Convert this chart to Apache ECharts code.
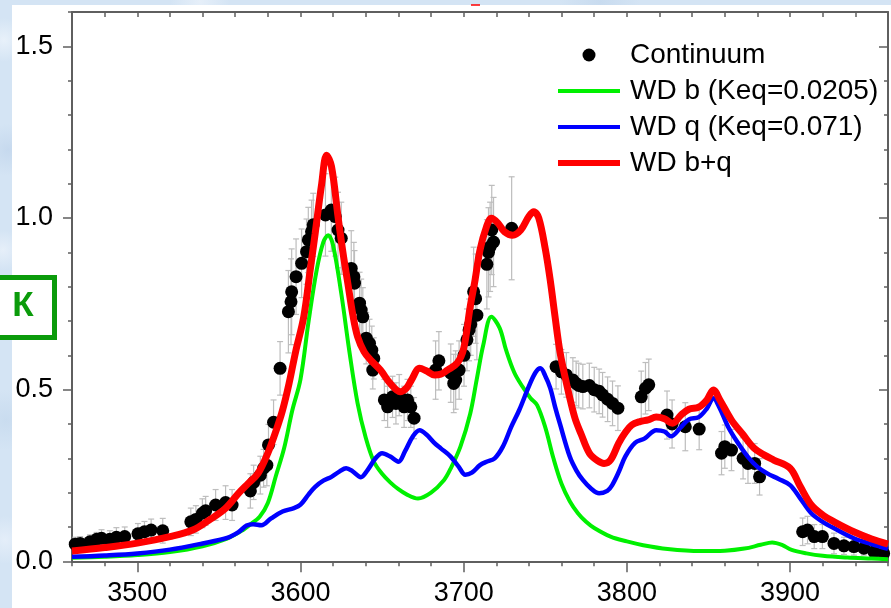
<!DOCTYPE html>
<html>
<head>
<meta charset="utf-8">
<script src="https://cdn.jsdelivr.net/npm/echarts@6/dist/echarts.min.js"></script>
<style>
  html, body { margin: 0; padding: 0; width: 891px; height: 608px; overflow: hidden; }
  body {
    background-color: #d4e4f4;
    background-image:
      radial-gradient(circle at 4px 40px, #e8f1fa 0, rgba(232,241,250,0) 22px),
      radial-gradient(circle at 8px 150px, #c6d9ee 0, rgba(198,217,238,0) 26px),
      radial-gradient(circle at 3px 250px, #e6eff9 0, rgba(230,239,249,0) 20px),
      radial-gradient(circle at 6px 420px, #c9dcef 0, rgba(201,220,239,0) 30px),
      radial-gradient(circle at 5px 540px, #e4eef9 0, rgba(228,238,249,0) 24px),
      radial-gradient(circle at 200px 2px, #e6eff9 0, rgba(230,239,249,0) 30px),
      radial-gradient(circle at 600px 2px, #c8dbef 0, rgba(200,219,239,0) 40px);
  }
  #panel { position: absolute; left: 12px; top: 5px; right: 0; bottom: 0; background: #ffffff; }
  #chart { position: absolute; left: 0; top: 0; width: 891px; height: 608px; }
</style>
</head>
<body>
<div id="panel"></div>
<div id="chart"></div>
<script>
// Continuum points (wavelength, value, error half-width)
const contWave = [3462.0, 3465.0, 3471.0, 3475.1, 3478.1, 3483.2, 3487.2, 3492.3, 3500.4, 3504.4, 3508.5, 3515.6,
  3532.8, 3535.9, 3539.9, 3541.9, 3548.0, 3554.1, 3558.1,
  3569.3, 3571.3, 3575.4, 3577.4, 3579.4, 3580.4, 3583.5, 3587.5,
  3592.6, 3594.2, 3594.6, 3597.3, 3600.7, 3603.7, 3604.8, 3606.8, 3607.8,
  3615.3, 3618.9, 3621.3, 3623.0, 3625.0, 3631.1, 3632.7, 3633.1, 3636.2, 3637.2, 3638.2,
  3640.3, 3642.3, 3643.7, 3644.3, 3644.9,
  3651.4, 3653.4, 3656.4, 3658.5, 3660.5, 3663.5, 3665.6, 3667.6, 3669.6,
  3682.8, 3684.8, 3692.1, 3693.9, 3695.1, 3697.2, 3700.2, 3702.0, 3703.3, 3704.3,
  3706.1, 3707.3, 3708.1, 3714.2, 3715.2, 3716.2, 3717.2, 3718.3, 3729.4,
  3756.6, 3759.9, 3762.9, 3766.9, 3768.9, 3770.5, 3773.0, 3777.0, 3780.0, 3783.0, 3785.1, 3788.2, 3791.2, 3794.5,
  3808.8, 3811.4, 3813.4,
  3824.6, 3827.7, 3835.8, 3844.3,
  3858.0, 3860.0, 3864.1, 3871.2, 3874.2, 3878.3, 3881.3,
  3907.7, 3910.7, 3914.8, 3919.8, 3926.9, 3933.0, 3939.1, 3945.2, 3951.3, 3957.3];
const contFlux = [0.050, 0.052, 0.057, 0.064, 0.067, 0.064, 0.070, 0.072, 0.080, 0.086, 0.091, 0.089,
  0.115, 0.122, 0.140, 0.147, 0.164, 0.171, 0.164,
  0.205, 0.230, 0.251, 0.271, 0.280, 0.339, 0.405, 0.562,
  0.727, 0.756, 0.785, 0.829, 0.868, 0.902, 0.936, 0.960, 0.980,
  1.009, 1.023, 1.004, 0.965, 0.941, 0.853, 0.829, 0.810, 0.752, 0.732, 0.712,
  0.650, 0.635, 0.615, 0.557, 0.591,
  0.470, 0.450, 0.479, 0.460, 0.484, 0.450, 0.470, 0.450, 0.417,
  0.557, 0.584, 0.548, 0.518, 0.528, 0.557, 0.600, 0.645, 0.674, 0.690,
  0.785, 0.765, 0.717, 0.865, 0.900, 0.916, 0.965, 0.930, 0.970,
  0.567, 0.552, 0.543, 0.528, 0.518, 0.512, 0.509, 0.512, 0.500, 0.495, 0.485, 0.472, 0.460, 0.446,
  0.479, 0.504, 0.514,
  0.426, 0.400, 0.392, 0.385,
  0.315, 0.334, 0.324, 0.300, 0.285, 0.285, 0.246,
  0.086, 0.091, 0.072, 0.072, 0.052, 0.045, 0.043, 0.038, 0.028, 0.023];
const contErr = [0.020, 0.020, 0.020, 0.020, 0.025, 0.025, 0.028, 0.028, 0.030, 0.030, 0.032, 0.036,
  0.040, 0.040, 0.042, 0.042, 0.045, 0.049, 0.045,
  0.050, 0.050, 0.055, 0.055, 0.060, 0.060, 0.065, 0.078,
  0.120, 0.125, 0.125, 0.110, 0.100, 0.095, 0.095, 0.092, 0.092,
  0.120, 0.120, 0.115, 0.110, 0.105, 0.110, 0.100, 0.095, 0.090, 0.090, 0.085,
  0.075, 0.070, 0.070, 0.055, 0.060,
  0.060, 0.060, 0.060, 0.060, 0.060, 0.060, 0.060, 0.060, 0.060,
  0.085, 0.085, 0.085, 0.085, 0.085, 0.085, 0.090, 0.090, 0.090, 0.090,
  0.130, 0.130, 0.130, 0.130, 0.130, 0.130, 0.130, 0.130, 0.150,
  0.065, 0.065, 0.065, 0.065, 0.065, 0.065, 0.065, 0.065, 0.065, 0.065, 0.065, 0.065, 0.065, 0.065,
  0.075, 0.075, 0.075,
  0.070, 0.070, 0.070, 0.060,
  0.063, 0.063, 0.060, 0.060, 0.058, 0.058, 0.053,
  0.040, 0.040, 0.035, 0.035, 0.030, 0.025, 0.025, 0.020, 0.020, 0.020];

// WD b model
const bWave = [3460, 3480, 3500, 3520, 3540, 3555, 3565, 3570, 3575, 3580, 3585, 3590, 3595, 3600, 3605, 3610, 3614,
  3617, 3620, 3625, 3630, 3635, 3640, 3645, 3650, 3655, 3660, 3665, 3672, 3680, 3688, 3692, 3698, 3704, 3708,
  3712, 3717, 3722, 3726, 3731, 3736, 3741, 3745, 3750, 3755, 3760, 3765, 3770, 3775, 3780, 3790, 3800, 3810,
  3825, 3845, 3860, 3872, 3882, 3889, 3895, 3901, 3910, 3920, 3935, 3950, 3960];
const bFlux = [0.010, 0.013, 0.018, 0.027, 0.044, 0.066, 0.092, 0.110, 0.130, 0.170, 0.250, 0.330, 0.440, 0.530, 0.700, 0.850, 0.930,
  0.950, 0.920, 0.780, 0.610, 0.460, 0.360, 0.290, 0.255, 0.230, 0.210, 0.195, 0.183, 0.200, 0.237, 0.270, 0.334, 0.430, 0.530,
  0.630, 0.712, 0.680, 0.615, 0.550, 0.509, 0.475, 0.455, 0.390, 0.300, 0.225, 0.175, 0.140, 0.115, 0.097, 0.072, 0.058, 0.047,
  0.036, 0.030, 0.031, 0.037, 0.048, 0.055, 0.048, 0.033, 0.023, 0.016, 0.011, 0.008, 0.006];

// WD q model
const qWave = [3460, 3480, 3500, 3520, 3540, 3555, 3562, 3567, 3571, 3576, 3582, 3589, 3596, 3600, 3605, 3609, 3614,
  3619, 3624, 3628, 3632, 3637, 3641, 3646, 3650, 3655, 3660, 3664, 3669, 3673, 3677, 3682, 3686, 3692, 3697,
  3701, 3705, 3710, 3714, 3719, 3724, 3729, 3734, 3740, 3744, 3747, 3750, 3753, 3756, 3759, 3765, 3769, 3773,
  3778, 3783, 3788, 3791, 3795, 3799, 3805, 3811, 3818, 3823, 3827, 3833, 3838, 3844, 3849, 3853, 3857, 3862,
  3868, 3874, 3880, 3886, 3893, 3900, 3906, 3913, 3920, 3927, 3939, 3950, 3960];
const qFlux = [0.013, 0.017, 0.023, 0.034, 0.052, 0.068, 0.085, 0.104, 0.108, 0.105, 0.125, 0.145, 0.155, 0.165, 0.195, 0.217, 0.235,
  0.246, 0.262, 0.271, 0.262, 0.245, 0.265, 0.300, 0.315, 0.305, 0.290, 0.320, 0.365, 0.382, 0.370, 0.345, 0.329, 0.305, 0.275,
  0.252, 0.258, 0.280, 0.290, 0.300, 0.334, 0.390, 0.440, 0.510, 0.550, 0.562, 0.540, 0.505, 0.450, 0.400, 0.305, 0.265, 0.237,
  0.212, 0.198, 0.205, 0.222, 0.260, 0.305, 0.345, 0.358, 0.382, 0.378, 0.364, 0.390, 0.413, 0.420, 0.445, 0.475, 0.445, 0.392,
  0.345, 0.305, 0.275, 0.256, 0.240, 0.222, 0.185, 0.140, 0.115, 0.096, 0.067, 0.050, 0.036];

// WD b+q model
const bqWave = [3460, 3480, 3500, 3520, 3534, 3544, 3554, 3562, 3568, 3574, 3580, 3585, 3589, 3593, 3597, 3602, 3606,
  3609, 3613, 3616, 3619, 3623, 3626, 3629, 3632, 3635, 3639, 3643, 3649, 3655, 3661, 3665, 3668, 3673, 3677,
  3682, 3686, 3690, 3696, 3700, 3704, 3707, 3710, 3714, 3717, 3721, 3725, 3730, 3735, 3740, 3743, 3746, 3750,
  3753, 3756, 3759, 3763, 3768, 3772, 3777, 3782, 3786, 3790, 3795, 3799, 3803, 3808, 3813, 3818, 3823, 3828,
  3833, 3838, 3844, 3849, 3853, 3857, 3864, 3871, 3878, 3884, 3890, 3900, 3906, 3913, 3920, 3927, 3939, 3950, 3960];
const bqFlux = [0.030, 0.040, 0.053, 0.072, 0.091, 0.120, 0.154, 0.198, 0.227, 0.256, 0.315, 0.380, 0.440, 0.518, 0.610, 0.712, 0.850,
  0.955, 1.100, 1.183, 1.150, 1.004, 0.900, 0.810, 0.720, 0.654, 0.610, 0.586, 0.557, 0.518, 0.494, 0.505, 0.528, 0.562, 0.555,
  0.543, 0.545, 0.557, 0.577, 0.620, 0.742, 0.820, 0.907, 0.975, 0.999, 0.985, 0.960, 0.950, 0.965, 1.005, 1.018, 1.000, 0.910,
  0.820, 0.712, 0.610, 0.518, 0.420, 0.370, 0.315, 0.293, 0.285, 0.295, 0.344, 0.375, 0.397, 0.407, 0.412, 0.420, 0.415, 0.402,
  0.425, 0.443, 0.449, 0.470, 0.499, 0.470, 0.412, 0.370, 0.329, 0.310, 0.295, 0.271, 0.220, 0.164, 0.135, 0.115, 0.086, 0.065, 0.050];

// Axis ticks and labels
const xMajorTicks = [3500, 3600, 3700, 3800, 3900];
const yMajorTicks = [0, 0.5, 1.0, 1.5];

const FONT = '"Liberation Sans", Arial, sans-serif';
const AXIS_COLOR = '#5f5f5f';
const GREEN = '#00f000', BLUE = '#0000ff', RED = '#ff0000';

const pairs = (xs, ys) => xs.map((x, i) => [x, ys[i]]);

const chart = echarts.init(document.getElementById('chart'), null, { renderer: 'canvas' });

const xBase = { type: 'value', min: 3460, max: 3960, splitLine: { show: false } };
const yBase = { type: 'value', min: 0, max: 1.6, splitLine: { show: false } };
const tickStyle = { color: AXIS_COLOR, width: 1.5 };

const option = {
  animation: false,
  backgroundColor: 'transparent',
  grid: { left: 72, top: 12, width: 822.5, height: 549.3, containLabel: false },
  xAxis: [
    Object.assign({}, xBase, {
      position: 'bottom', interval: 20,
      axisLine: { show: true, onZero: false, lineStyle: { color: AXIS_COLOR, width: 2 } },
      axisTick: { show: true, length: 5, lineStyle: tickStyle },
      axisLabel: {
        show: true, margin: 19, fontSize: 27, fontFamily: FONT, color: '#000',
        formatter: v => (xMajorTicks.indexOf(Math.round(v)) >= 0 ? String(Math.round(v)) : '')
      }
    }),
    Object.assign({}, xBase, {
      position: 'bottom',
      axisLine: { show: false },
      axisTick: { show: true, length: 11, customValues: xMajorTicks, lineStyle: tickStyle },
      axisLabel: { show: false }
    }),
    Object.assign({}, xBase, {
      position: 'top', interval: 20,
      axisLine: { show: true, onZero: false, lineStyle: { color: AXIS_COLOR, width: 2 } },
      axisTick: { show: true, inside: true, length: 5, lineStyle: tickStyle },
      axisLabel: { show: false }
    }),
    Object.assign({}, xBase, {
      position: 'top',
      axisLine: { show: false },
      axisTick: { show: true, inside: true, length: 10, customValues: xMajorTicks, lineStyle: tickStyle },
      axisLabel: { show: false }
    })
  ],
  yAxis: [
    Object.assign({}, yBase, {
      position: 'left', interval: 0.1,
      axisLine: { show: true, onZero: false, lineStyle: { color: AXIS_COLOR, width: 2 } },
      axisTick: { show: true, length: 4, lineStyle: tickStyle },
      axisLabel: {
        show: true, margin: 19, fontSize: 27, fontFamily: FONT, color: '#000',
        padding: [3, 0, 0, 0],
        formatter: v => {
          const hit = yMajorTicks.some(t => Math.abs(t - v) < 1e-6);
          return hit ? v.toFixed(1) : '';
        }
      }
    }),
    Object.assign({}, yBase, {
      position: 'left',
      axisLine: { show: false },
      axisTick: { show: true, length: 9, customValues: yMajorTicks, lineStyle: tickStyle },
      axisLabel: { show: false }
    }),
    Object.assign({}, yBase, {
      position: 'right', interval: 0.1,
      axisLine: { show: true, onZero: false, lineStyle: { color: AXIS_COLOR, width: 2 } },
      axisTick: { show: true, inside: true, length: 4, lineStyle: tickStyle },
      axisLabel: { show: false }
    }),
    Object.assign({}, yBase, {
      position: 'right',
      axisLine: { show: false },
      axisTick: { show: true, inside: true, length: 9, customValues: yMajorTicks, lineStyle: tickStyle },
      axisLabel: { show: false }
    })
  ],
  legend: {
    orient: 'vertical',
    left: 553, top: 36,
    itemWidth: 62, itemHeight: 13, itemGap: 8,
    selectedMode: false,
    textStyle: { fontSize: 28, fontFamily: FONT, color: '#000', lineHeight: 28, padding: [0, 0, 0, 5] },
    data: [
      { name: 'Continuum', icon: 'circle', itemStyle: { color: '#000', opacity: 1 } },
      { name: 'WD b (Keq=0.0205)', icon: 'path://M0,0H62V4H0Z', itemStyle: { color: GREEN } },
      { name: 'WD q (Keq=0.071)', icon: 'path://M0,0H62V4H0Z', itemStyle: { color: BLUE } },
      { name: 'WD b+q', icon: 'path://M0,0H62V6H0Z', itemStyle: { color: RED } }
    ]
  },
  graphic: [
    {
      type: 'rect', z: 100,
      shape: { x: -10, y: 277.5, width: 64.5, height: 60 },
      style: { fill: '#ffffff', stroke: '#0b9b0b', lineWidth: 5 }
    },
    {
      type: 'text', z: 101, x: 23, y: 306,
      style: {
        text: 'К', fill: '#0b9b0b', font: 'bold 35px "Liberation Sans", Arial, sans-serif',
        align: 'center', verticalAlign: 'middle'
      }
    },
    {
      type: 'line', z: 101,
      shape: { x1: 471, y1: 5, x2: 480, y2: 5 },
      style: { stroke: '#ff0000', lineWidth: 1.5 }
    }
  ],
  series: [
    {
      name: 'errors', type: 'custom', silent: true, z: 1,
      data: contWave.map((w, i) => [w, contFlux[i], contErr[i]]),
      encode: { x: 0, y: 1 },
      renderItem: function (params, api) {
        const x = api.value(0), y = api.value(1), e = api.value(2);
        const hi = api.coord([x, y + e]);
        const lo = api.coord([x, y - e]);
        const c = 3;
        const st = { stroke: '#bdbdbd', lineWidth: 1.2 };
        return {
          type: 'group',
          children: [
            { type: 'line', shape: { x1: hi[0], y1: hi[1], x2: lo[0], y2: lo[1] }, style: st },
            { type: 'line', shape: { x1: hi[0] - c, y1: hi[1], x2: hi[0] + c, y2: hi[1] }, style: st },
            { type: 'line', shape: { x1: lo[0] - c, y1: lo[1], x2: lo[0] + c, y2: lo[1] }, style: st }
          ]
        };
      }
    },
    {
      name: 'Continuum', type: 'scatter', z: 2,
      symbol: 'circle', symbolSize: 13,
      itemStyle: { color: '#000000', opacity: 1 },
      data: pairs(contWave, contFlux)
    },
    {
      name: 'WD b (Keq=0.0205)', type: 'line', z: 3, smooth: 0.35,
      symbol: 'none', showSymbol: false,
      lineStyle: { color: GREEN, width: 4 }, itemStyle: { color: GREEN },
      data: pairs(bWave, bFlux)
    },
    {
      name: 'WD q (Keq=0.071)', type: 'line', z: 4, smooth: 0.35,
      symbol: 'none', showSymbol: false,
      lineStyle: { color: BLUE, width: 4.5 }, itemStyle: { color: BLUE },
      data: pairs(qWave, qFlux)
    },
    {
      name: 'WD b+q', type: 'line', z: 5, smooth: 0.35,
      symbol: 'none', showSymbol: false,
      lineStyle: { color: RED, width: 7 }, itemStyle: { color: RED },
      data: pairs(bqWave, bqFlux)
    }
  ]
};

chart.setOption(option);
</script>
</body>
</html>
